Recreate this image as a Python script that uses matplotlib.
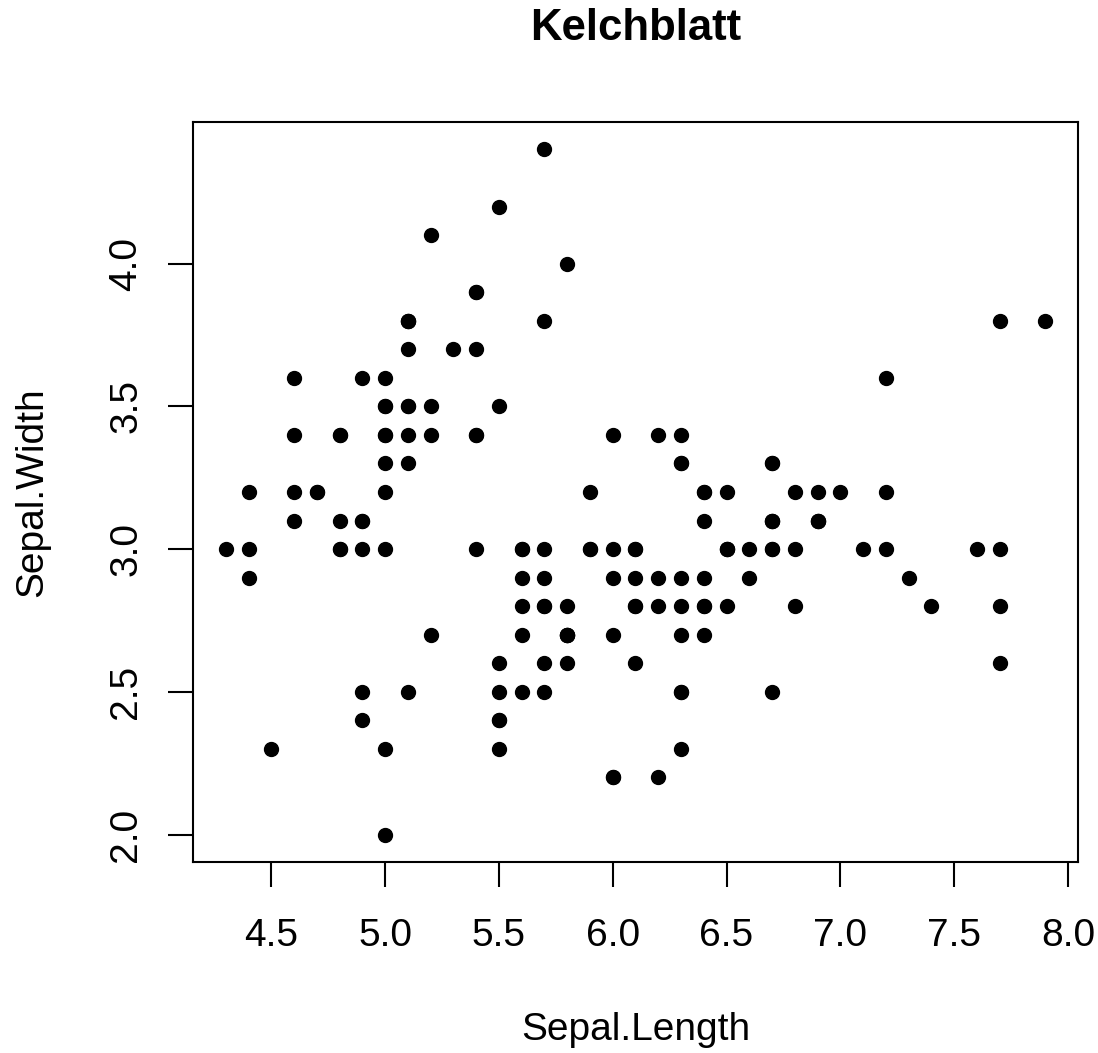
import matplotlib
matplotlib.use("Agg")
import matplotlib.pyplot as plt

# iris data: sepal length / sepal width
sepal_length = [5.1, 4.9, 4.7, 4.6, 5.0, 5.4, 4.6, 5.0, 4.4, 4.9, 5.4, 4.8, 4.8, 4.3, 5.8, 5.7, 5.4, 5.1, 5.7, 5.1,
                5.4, 5.1, 4.6, 5.1, 4.8, 5.0, 5.0, 5.2, 5.2, 4.7, 4.8, 5.4, 5.2, 5.5, 4.9, 5.0, 5.5, 4.9, 4.4, 5.1,
                5.0, 4.5, 4.4, 5.0, 5.1, 4.8, 5.1, 4.6, 5.3, 5.0,
                7.0, 6.4, 6.9, 5.5, 6.5, 5.7, 6.3, 4.9, 6.6, 5.2, 5.0, 5.9, 6.0, 6.1, 5.6, 6.7, 5.6, 5.8, 6.2, 5.6,
                5.9, 6.1, 6.3, 6.1, 6.4, 6.6, 6.8, 6.7, 6.0, 5.7, 5.5, 5.5, 5.8, 6.0, 5.4, 6.0, 6.7, 6.3, 5.6, 5.5,
                5.5, 6.1, 5.8, 5.0, 5.6, 5.7, 5.7, 6.2, 5.1, 5.7,
                6.3, 5.8, 7.1, 6.3, 6.5, 7.6, 4.9, 7.3, 6.7, 7.2, 6.5, 6.4, 6.8, 5.7, 5.8, 6.4, 6.5, 7.7, 7.7, 6.0,
                6.9, 5.6, 7.7, 6.3, 6.7, 7.2, 6.2, 6.1, 6.4, 7.2, 7.4, 7.9, 6.4, 6.3, 6.1, 7.7, 6.3, 6.4, 6.0, 6.9,
                6.7, 6.9, 5.8, 6.8, 6.7, 6.7, 6.3, 6.5, 6.2, 5.9]
sepal_width = [3.5, 3.0, 3.2, 3.1, 3.6, 3.9, 3.4, 3.4, 2.9, 3.1, 3.7, 3.4, 3.0, 3.0, 4.0, 4.4, 3.9, 3.5, 3.8, 3.8,
               3.4, 3.7, 3.6, 3.3, 3.4, 3.0, 3.4, 3.5, 3.4, 3.2, 3.1, 3.4, 4.1, 4.2, 3.1, 3.2, 3.5, 3.6, 3.0, 3.4,
               3.5, 2.3, 3.2, 3.5, 3.8, 3.0, 3.8, 3.2, 3.7, 3.3,
               3.2, 3.2, 3.1, 2.3, 2.8, 2.8, 3.3, 2.4, 2.9, 2.7, 2.0, 3.0, 2.2, 2.9, 2.9, 3.1, 3.0, 2.7, 2.2, 2.5,
               3.2, 2.8, 2.5, 2.8, 2.9, 3.0, 2.8, 3.0, 2.9, 2.6, 2.4, 2.4, 2.7, 2.7, 3.0, 3.4, 3.1, 2.3, 3.0, 2.5,
               2.6, 3.0, 2.6, 2.3, 2.7, 3.0, 2.9, 2.9, 2.5, 2.8,
               3.3, 2.7, 3.0, 2.9, 3.0, 3.0, 2.5, 2.9, 2.5, 3.6, 3.2, 2.7, 3.0, 2.5, 2.8, 3.2, 3.0, 3.8, 2.6, 2.2,
               3.2, 2.8, 2.8, 2.7, 3.3, 3.2, 2.8, 3.0, 2.8, 3.0, 2.8, 3.8, 2.8, 2.8, 2.6, 3.0, 3.4, 3.1, 3.0, 3.1,
               3.1, 3.1, 2.7, 3.2, 3.3, 3.0, 2.5, 3.0, 3.4, 3.0]

x_ticks = [4.5, 5.0, 5.5, 6.0, 6.5, 7.0, 7.5, 8.0]
y_ticks = [2.0, 2.5, 3.0, 3.5, 4.0]

plt.rcParams['font.family'] = ['Liberation Sans', 'DejaVu Sans']

fig = plt.figure(figsize=(10.98, 10.53), dpi=100)
ax = fig.add_axes([193 / 1098, 1 - 862 / 1053, (1078 - 193) / 1098, (862 - 122) / 1053])

ax.plot(sepal_length, sepal_width, 'ko', markersize=10, linestyle='none')

# R style axis ranges (data range + 4%)
xr = max(sepal_length) - min(sepal_length)
yr = max(sepal_width) - min(sepal_width)
ax.set_xlim(min(sepal_length) - 0.04 * xr, max(sepal_length) + 0.04 * xr)
ax.set_ylim(min(sepal_width) - 0.04 * yr, max(sepal_width) + 0.04 * yr)

ax.set_xticks(x_ticks)
ax.set_xticklabels(["%.1f" % v for v in x_ticks])
ax.set_yticks(y_ticks)
ax.set_yticklabels(["%.1f" % v for v in y_ticks], rotation=90, va='center')

for sp in ax.spines.values():
    sp.set_linewidth(1.5)
ax.tick_params(direction='out', length=18, width=1.5, labelsize=28)
ax.tick_params(axis='x', pad=22)
ax.tick_params(axis='y', pad=17)

ax.set_xlabel("Sepal.Length", fontsize=28, labelpad=42)
ax.set_ylabel("Sepal.Width", fontsize=28, labelpad=42)
fig.text((193 + 1078) / 2 / 1098, 1 - 29 / 1053, "Kelchblatt", fontsize=31.5, fontweight='bold',
         ha='center', va='center')

plt.savefig("out.png")
